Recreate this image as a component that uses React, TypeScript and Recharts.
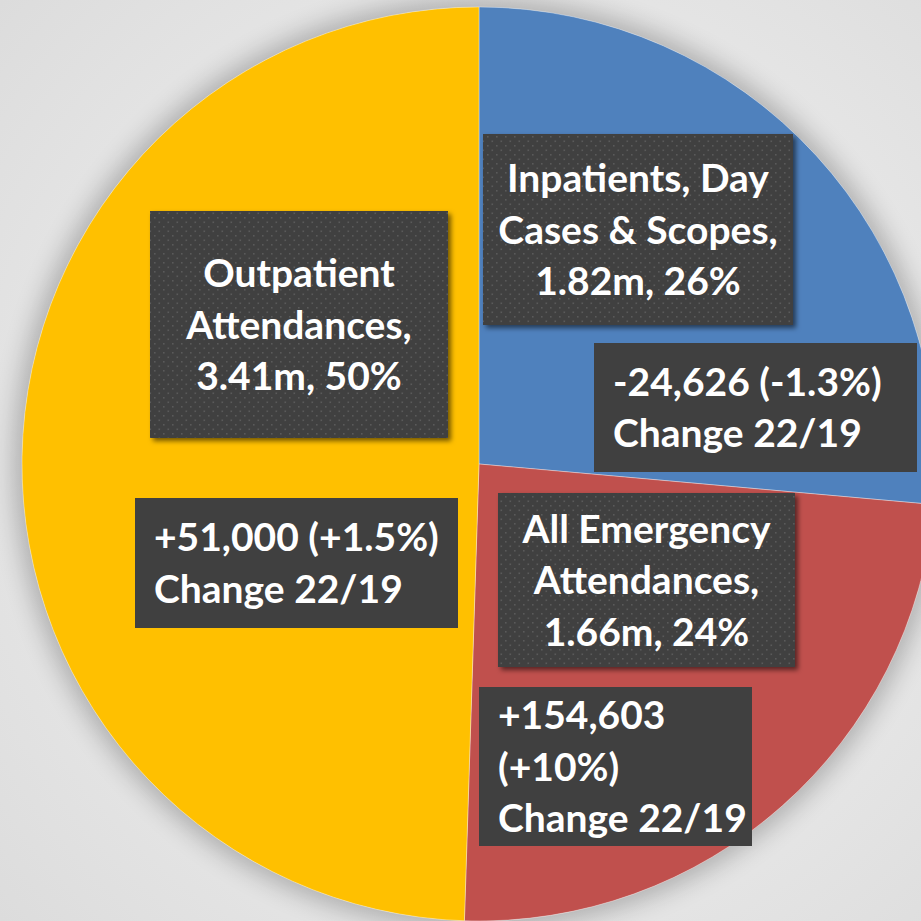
import { PieChart, Pie, Cell } from 'recharts'

const categories = ['Inpatients, Day Cases & Scopes', 'All Emergency Attendances', 'Outpatient Attendances']
const values = [1.82, 1.66, 3.41] // millions
const shares = [26, 24, 50]
const changes = [-24626, 154603, 51000]
const changePcts = [-1.3, 10, 1.5]
const colors = ['#4F81BD', '#C0504D', '#FFC000']

const W = 921
const H = 921
const CX = 479
const CY = 464
const R = 457

const fmt = new Intl.NumberFormat('en-US')
const signed = (n: number, s: string) => `${n > 0 ? '+' : ''}${s}`

// box placement relative to pie centre, one pair per slice
const boxLayout = [
  { main: { dx: 4, dy: -330, w: 310, h: 191 }, change: { dx: 115, dy: -121, w: 323, h: 129, max: 15 } },
  { main: { dx: 19, dy: 29, w: 297, h: 174 }, change: { dx: 0, dy: 223, w: 273, h: 159, max: 12 } },
  { main: { dx: -329, dy: -253, w: 298, h: 227 }, change: { dx: -344, dy: 34, w: 323, h: 130, max: 15 } },
]

const wrap = (text: string, max: number) => {
  const out: string[] = []
  let cur = ''
  text.split(' ').forEach(word => {
    if (!cur) cur = word
    else if ((cur + ' ' + word).length <= max) cur += ' ' + word
    else {
      out.push(cur)
      cur = word
    }
  })
  if (cur) out.push(cur)
  return out
}

const FONT = 39
const LINE = 51.5

const Box = ({ x, y, w, h, lines, centered, textured }: any) => {
  const mid = y + h / 2
  const n = lines.length
  return (
    <g>
      <rect
        x={x}
        y={y}
        width={w}
        height={h}
        fill={textured ? 'url(#dots)' : '#404040'}
        filter={textured ? 'url(#boxShadow)' : undefined}
      />
      {lines.map((line: string, i: number) => (
        <text
          key={i}
          x={centered ? x + w / 2 : x + 19}
          y={mid + (i - (n - 1) / 2) * LINE + 14}
          textAnchor={centered ? 'middle' : 'start'}
          fill="#fff"
          fontSize={FONT}
          fontWeight={700}
          fontFamily="Lato, 'Open Sans', sans-serif"
        >
          {line}
        </text>
      ))}
    </g>
  )
}

const renderLabel = (props: any) => {
  const { cx, cy, index } = props
  const lay = boxLayout[index]
  const mainText = `${categories[index]}, ${values[index].toFixed(2)}m, ${shares[index]}%`
  const p = changePcts[index]
  const changeText = `${signed(changes[index], fmt.format(changes[index]))} (${signed(p, String(p))}%) Change 22/19`
  return (
    <g key={`lbl-${index}`}>
      <Box
        x={cx + lay.main.dx}
        y={cy + lay.main.dy}
        w={lay.main.w}
        h={lay.main.h}
        lines={wrap(mainText, 15)}
        centered
        textured
      />
      <Box
        x={cx + lay.change.dx}
        y={cy + lay.change.dy}
        w={lay.change.w}
        h={lay.change.h}
        lines={wrap(changeText, lay.change.max)}
      />
    </g>
  )
}

const data = categories.map((name, i) => ({ name, value: values[i] }))

export default function App() {
  return (
    <div
      style={{
        position: 'relative',
        width: W,
        height: H,
        overflow: 'hidden',
        background: 'radial-gradient(circle at 55% 50%, #f2f2f2 0%, #e8e8e8 55%, #dcdcdc 100%)',
      }}
    >
      <style>{'body{margin:0}'}</style>
      <svg width={0} height={0} style={{ position: 'absolute' }}>
        <defs>
          <pattern id="dots" width={9} height={9} patternUnits="userSpaceOnUse">
            <rect width={9} height={9} fill="#404040" />
            <rect x={1} y={1} width={1.6} height={1.6} fill="#5a5a5a" />
            <rect x={5.5} y={5.5} width={1.6} height={1.6} fill="#5a5a5a" />
          </pattern>
          <filter id="boxShadow" x="-10%" y="-10%" width="125%" height="125%">
            <feDropShadow dx={3} dy={3} stdDeviation={2.5} floodColor="#000" floodOpacity={0.55} />
          </filter>
        </defs>
      </svg>
      <div
        style={{
          position: 'absolute',
          left: CX - R,
          top: CY - R,
          width: R * 2,
          height: R * 2,
          borderRadius: '50%',
          boxShadow: '0 0 24px 8px rgba(0,0,0,0.24)',
        }}
      />
      <div style={{ position: 'absolute', left: 0, top: 0 }}>
        <PieChart width={W} height={H} margin={{ top: 0, right: 0, bottom: 0, left: 0 }}>
          <Pie
            data={data}
            dataKey="value"
            nameKey="name"
            cx={CX}
            cy={CY}
            outerRadius={R}
            startAngle={90}
            endAngle={-270}
            stroke="#ffffff"
            strokeOpacity={0.35}
            strokeWidth={1}
            label={renderLabel}
            labelLine={false}
            isAnimationActive={false}
          >
            {data.map((d, i) => (
              <Cell key={d.name} fill={colors[i]} />
            ))}
          </Pie>
        </PieChart>
      </div>
    </div>
  )
}
